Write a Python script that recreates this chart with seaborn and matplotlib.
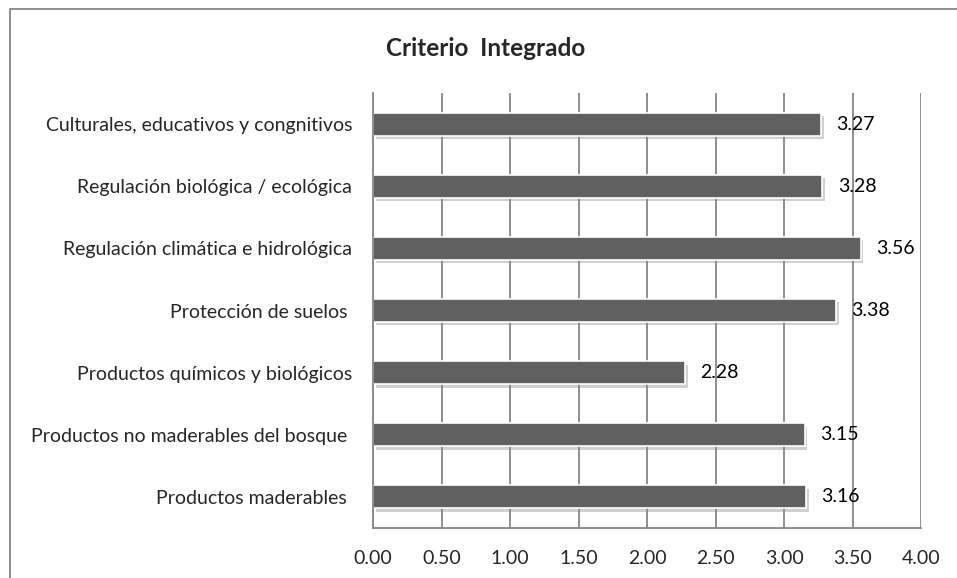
import numpy as np
import pandas as pd
import seaborn as sns
import matplotlib.pyplot as plt
import matplotlib.patheffects as pe
from matplotlib.patches import Rectangle

# data (top to bottom)
categorias = ["Culturales, educativos y congnitivos",
              "Regulación biológica / ecológica",
              "Regulación climática e hidrológica",
              "Protección de suelos ",
              "Productos químicos y biológicos",
              "Productos no maderables del bosque ",
              "Productos maderables "]
valores = [3.27, 3.28, 3.56, 3.38, 2.28, 3.15, 3.16]
ticks_x = [0.0, 0.5, 1.0, 1.5, 2.0, 2.5, 3.0, 3.5, 4.0]
titulo = "Criterio  Integrado"

df = pd.DataFrame({"categoria": categorias, "valor": valores})

sns.set_style("white")
plt.rcParams["font.family"] = ["Lato", "DejaVu Sans"]

gris = "#868686"
fig = plt.figure(figsize=(9.57, 5.78), dpi=100)
ax = fig.add_axes([373/957, 1 - 528/578, (921 - 373)/957, (528 - 93)/578])

sns.barplot(data=df, x="valor", y="categoria", orient="h", color="#606060",
            width=0.37, edgecolor="white", linewidth=1.2, saturation=1, ax=ax)

# soft shadow like the original office chart
for p in ax.patches:
    p.set_path_effects([pe.SimplePatchShadow(offset=(2, -2.5), shadow_rgbFace="#8a8a8a", alpha=0.4),
                        pe.Normal()])

for i, v in enumerate(valores):
    ax.annotate(f"{v:.2f}", xy=(v, i), xytext=(11, 0), textcoords="offset points",
                ha="left", va="center", fontsize=14, color="black")

ax.set_xlim(0, 4)
ax.set_xticks(ticks_x)
ax.set_xticklabels([f"{t:.2f}" for t in ticks_x], fontsize=14)
ax.set_ylim(len(categorias) - 0.5, -0.5)
ax.set_xlabel("")
ax.set_ylabel("")
ax.tick_params(axis="x", length=0, pad=16)
ax.tick_params(axis="y", length=0, pad=15, labelsize=14)
ax.xaxis.grid(True, color=gris, linewidth=1.3)
ax.set_axisbelow(True)

for s in ["top", "right"]:
    ax.spines[s].set_visible(False)
for s in ["left", "bottom"]:
    ax.spines[s].set_color(gris)
    ax.spines[s].set_linewidth(1.3)

fig.text(486/957, 1 - 48/578, titulo, ha="center", va="center",
         fontsize=17.5, fontweight="bold")

# chart area border (only top/left visible in the crop)
fig.patches.append(Rectangle((10/957, -0.1), 1.2, 1 - 9/578 + 0.1, transform=fig.transFigure,
                             fill=False, edgecolor=gris, linewidth=1.3))

fig.savefig("out.png", dpi=100)
